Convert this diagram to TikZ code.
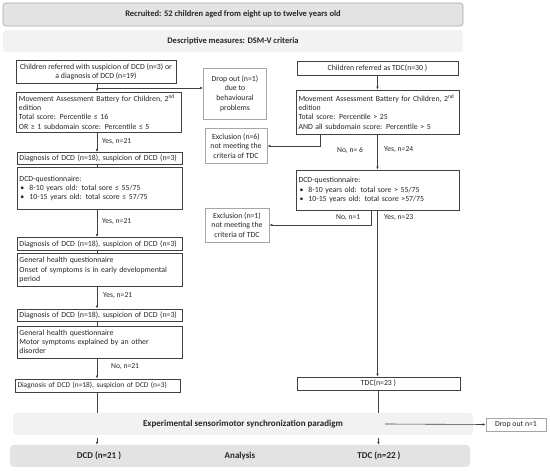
\documentclass[tikz,border=0pt]{standalone}
\usepackage{fontspec}
\setmainfont{Carlito}
\usepackage{tikz}
\usetikzlibrary{arrows.meta, positioning, calc}
\definecolor{mline}{HTML}{404040}
\definecolor{mside}{HTML}{A6A6A6}
\definecolor{mdark}{HTML}{E3E3E3}
\definecolor{mlight}{HTML}{F2F2F2}
\definecolor{mtext}{HTML}{262626}
\tikzset{
  hdrbox/.style={rounded corners=3pt, text=mtext, font=\fontsize{8.5}{10}\selectfont\bfseries, inner sep=2pt},
  band/.style={rounded corners=4pt, fill=mlight, text=mtext, font=\fontsize{9}{10}\selectfont\bfseries, inner sep=2pt},
  cbox/.style={draw=mline, line width=0.8pt, fill=white, text=mtext, align=center,
               font=\fontsize{7.8}{9.2}\selectfont, inner sep=1.5pt},
  lbox/.style={draw=mline, line width=0.8pt, fill=white, text=mtext, align=left,
               font=\fontsize{7.8}{9.2}\selectfont, inner xsep=2.5pt, inner ysep=1.5pt, text width=160pt},
  sbox/.style={draw=mside, line width=0.8pt, fill=white, text=mtext, align=center,
               font=\fontsize{7.8}{9.6}\selectfont, inner sep=1.5pt},
  lbl/.style={font=\fontsize{7.6}{8}\selectfont, text=mtext, anchor=west, inner sep=0pt},
  arr/.style={-{Latex[length=3pt, width=2.6pt]}, line width=0.6pt, mline},
  link/.style={line width=0.6pt, mline},
}
\newcommand{\bul}{\hspace*{1pt}\makebox[9pt][l]{\textbullet}}

\begin{document}
\begin{tikzpicture}[x=1pt, y=-1pt]
  \useasboundingbox (0,0) rectangle (550,473);
  % Header bands
  \node[hdrbox, fill=mdark, draw=mside, line width=0.6pt, minimum width=460pt, minimum height=23pt] (recruit) at (233,14.5)
    {Recruited: 52 children aged from eight up to twelve years old};
  \node[hdrbox, fill=mlight, minimum width=460pt, minimum height=22pt] (dsm) at (233,41)
    {Descriptive measures: DSM-V criteria};
  % Left column: DCD
  \coordinate (lcol) at (97,0);
  \node[cbox, minimum width=160pt, minimum height=23pt] (l1) at (96,71.5)
    {Children referred with suspicion of DCD (n=3) or\\a diagnosis of DCD (n=19)};
  \node[lbox, minimum height=40pt] (l2) at (99,112)
    {Movement Assessment Battery for Children, 2\textsuperscript{nd}\\edition\\Total score: Percentile ≤ 16\\OR ≥ 1 subdomain score: Percentile ≤ 5};
  \node[lbox, minimum height=12pt] (l3) at (99.5,158.5) {Diagnosis of DCD (n=18), suspicion of DCD (n=3)};
  \node[lbox, minimum height=42pt] (l4) at (99.5,188.5)
    {DCD-questionnaire:\\\bul 8-10 years old: total sore ≤ 55/75\\\bul 10-15 years old: total score ≤ 57/75};
  \node[lbox, minimum height=13pt] (l5) at (99.5,244) {Diagnosis of DCD (n=18), suspicion of DCD (n=3)};
  \node[lbox, minimum height=33pt] (l6) at (99.5,270)
    {General health questionnaire\\Onset of symptoms is in early developmental\\period};
  \node[lbox, minimum height=12pt] (l7) at (99.5,315) {Diagnosis of DCD (n=18), suspicion of DCD (n=3)};
  \node[lbox, minimum height=32pt] (l8) at (99.5,342)
    {General health questionnaire\\Motor symptoms explained by an other\\disorder};
  \node[lbox, font=\fontsize{7.4}{8.5}\selectfont, minimum height=13pt] (l9) at (97.5,385.5)
    {Diagnosis of DCD (n=18), suspicion of DCD (n=3)};
  \node[lbl] (yes1) at (102,142) {Yes, n=21};
  \node[lbl] (yes2) at (102,222) {Yes, n=21};
  \node[lbl] (yes3) at (103,296) {Yes, n=21};
  \node[lbl] (no1) at (111,367) {No, n=21};
  % Middle: drop out and exclusions
  \node[sbox, minimum width=63pt, minimum height=51pt] (drop1) at (235,93.5)
    {Drop out (n=1)\\due to\\behavioural\\problems};
  \node[sbox, minimum width=62pt, minimum height=35pt] (excl6) at (236,146)
    {Exclusion (n=6)\\not meeting the\\criteria of TDC};
  \node[sbox, minimum width=64pt, minimum height=34pt] (excl1) at (237,225)
    {Exclusion (n=1)\\not meeting the\\criteria of TDC};
  % Right column: TDC
  \node[cbox, minimum width=161pt, minimum height=14pt] (r1) at (377.5,68) {Children referred as TDC(n=30 )};
  \node[lbox, text width=158pt, minimum height=44pt] (r2) at (377.5,112)
    {Movement Assessment Battery for Children, 2\textsuperscript{nd}\\edition\\Total score: Percentile > 25\\AND all subdomain score: Percentile > 5};
  \node[lbox, text width=158pt, minimum height=40pt] (r3) at (377.5,190)
    {DCD-questionnaire:\\\bul 8-10 years old: total sore > 55/75\\\bul 10-15 years old: total score >57/75};
  \node[cbox, minimum width=163pt, minimum height=13pt] (tdc) at (378.5,383.5) {TDC(n=23 )};
  \node[lbl] (no6) at (337,150) {No, n= 6};
  \node[lbl] (yes24) at (384,150) {Yes, n=24};
  \node[lbl] (no7) at (336,218) {No, n=1};
  \node[lbl] (yes23) at (384,218) {Yes, n=23};
  % Bottom bands
  \node[band, minimum width=460pt, minimum height=22pt] (paradigm) at (243,424)
    {Experimental sensorimotor synchronization paradigm};
  \node[band, fill=mdark, minimum width=460pt, minimum height=22pt] (results) at (240,456) {Analysis};
  \node[band, fill=none] (dcdn) at (99,456) {DCD (n=21 )};
  \node[band, fill=none] (tdcn) at (379,456) {TDC (n=22 )};
  \node[sbox, minimum width=60pt, minimum height=13pt] (drop2) at (516,424.5) {Drop out n=1};
  % Left connectors
  \coordinate (split1) at (97,88);
  \draw[arr] (l1.south -| lcol) -- (l2.north -| lcol);
  \draw[arr] (split1) -- (split1 -| drop1.west);
  \draw[arr] (l2.south -| lcol) -- (l3.north -| lcol);
  \draw[link] (l3.south -| lcol) -- (l4.north -| lcol);
  \draw[arr] (l4.south -| lcol) -- (l5.north -| lcol);
  \draw[link] (l5.south -| lcol) -- (l6.north -| lcol);
  \draw[arr] (l6.south -| lcol) -- (l7.north -| lcol);
  \draw[link] (l7.south -| lcol) -- (l8.north -| lcol);
  \draw[arr] (l8.south -| lcol) -- (l9.north -| lcol);
  \draw[link] (l9.south -| lcol) -- (paradigm.north -| lcol);
  \draw[arr, shorten <=3pt] (paradigm.south -| lcol) -- (results.north -| lcol);
  % Right connectors
  \coordinate (nobend1) at (320,146);
  \coordinate (nobend2) at (371,225);
  \draw[arr] (r1.south) -- (r2.north);
  \draw[arr] (nobend1 |- r2.south) -- (nobend1) -- (excl6.east);
  \draw[arr] (r2.south) -- (r3.north);
  \draw[arr] (nobend2 |- r3.south) -- (nobend2) -- (excl1.east);
  \draw[arr] (r3.south) -- (r3.south |- tdc.north);
  \draw[link] (tdc.south) -- (tdc.south |- paradigm.north);
  \draw[arr, shorten <=3pt] (paradigm.south -| tdc) -- (results.north -| tdc);
  % Drop out during the paradigm
  \coordinate (dropstart) at (385,424);
  \draw[arr] (dropstart) -- (drop2.west);
\end{tikzpicture}
\end{document}
